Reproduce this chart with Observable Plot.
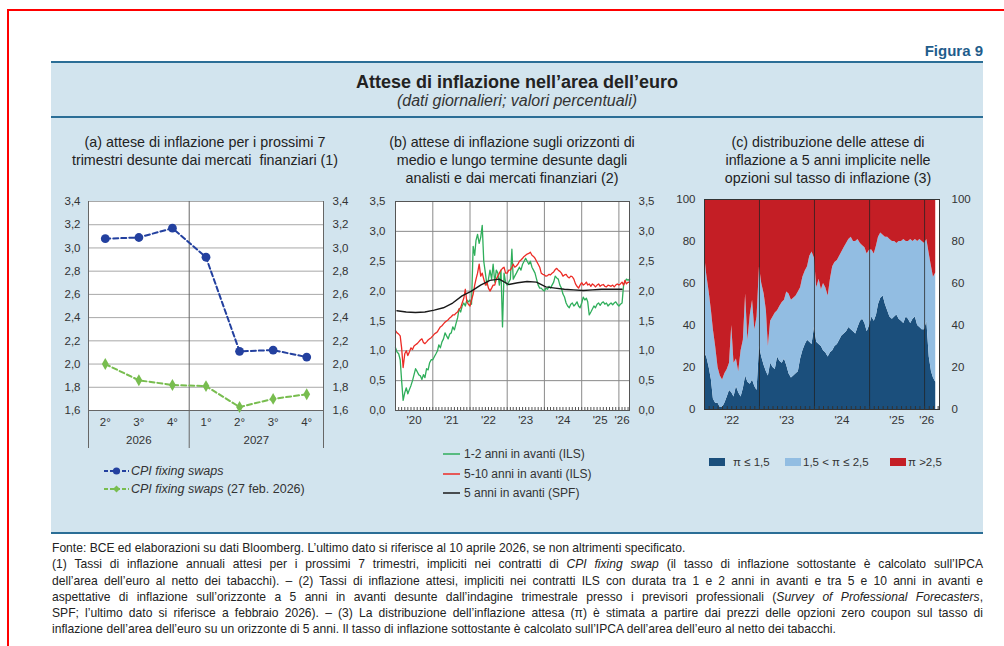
<!DOCTYPE html>
<html><head><meta charset="utf-8">
<script src="https://cdn.jsdelivr.net/npm/d3@7"></script>
<script src="https://cdn.jsdelivr.net/npm/@observablehq/plot@0.6"></script>
<style>
body{margin:0;width:1004px;height:646px;overflow:hidden;background:#fff;font-family:"Liberation Sans",Arial,sans-serif;color:#222;position:relative}
.abs{position:absolute}
.c{position:absolute;transform:translateX(-50%);white-space:nowrap;text-align:center}
.pt{font-size:14.3px;line-height:18px;color:#222}
.lg{position:absolute;white-space:nowrap;font-size:12px;line-height:14px;color:#333}
#notes{position:absolute;left:52px;top:540px;width:931px;font-size:12.1px;line-height:16.3px;color:#222}
#notes div{white-space:nowrap}
</style></head>
<body>
<div class="abs" style="left:7px;top:9px;width:1000px;height:640px;border-left:2px solid #f00;border-top:2px solid #f00"></div>
<div class="abs" style="right:21px;top:42px;font-weight:bold;font-size:15px;color:#1f5d8c">Figura 9</div>
<div class="abs" style="left:51px;top:61px;width:932px;height:469px;background:#d2e4ee;border-top:2px solid #2b6e96;border-bottom:2px solid #2b6e96"></div>
<div class="abs" style="left:51px;top:116px;width:932px;height:2px;background:#2b6e96"></div>
<div class="c" style="left:517px;top:71px;font-weight:bold;font-size:18px;line-height:22px">Attese di inflazione nell’area dell’euro</div>
<div class="c" style="left:517px;top:91px;font-style:italic;font-size:16px;line-height:20px;color:#333">(dati giornalieri; valori percentuali)</div>

<div class="c pt" style="left:205px;top:133px">(a) attese di inflazione per i prossimi 7<br>trimestri desunte dai mercati&nbsp; finanziari (1)</div>
<div class="c pt" style="left:512px;top:133px">(b) attese di inflazione sugli orizzonti di<br>medio e lungo termine desunte dagli<br>analisti e dai mercati finanziari (2)</div>
<div class="c pt" style="left:828px;top:133px">(c) distribuzione delle attese di<br>inflazione a 5 anni implicite nelle<br>opzioni sul tasso di inflazione (3)</div>

<div id="pa" class="abs" style="left:50px;top:190px"></div>
<div id="pb" class="abs" style="left:345px;top:190px"></div>
<div id="pc" class="abs" style="left:650px;top:190px"></div>
<div id="legends"></div>

<div id="notes">
<div><span>Fonte: BCE ed elaborazioni su dati Bloomberg. L’ultimo dato si riferisce al 10 aprile 2026, se non altrimenti specificato.</span></div>
<div class="j"><span>(1) Tassi di inflazione annuali attesi per i prossimi 7 trimestri, impliciti nei contratti di <i>CPI fixing swap</i> (il tasso di inflazione sottostante è calcolato sull’IPCA</span></div>
<div class="j"><span>dell’area dell’euro al netto dei tabacchi). – (2) Tassi di inflazione attesi, impliciti nei contratti ILS con durata tra 1 e 2 anni in avanti e tra 5 e 10 anni in avanti e</span></div>
<div class="j"><span>aspettative di inflazione sull’orizzonte a 5 anni in avanti desunte dall’indagine trimestrale presso i previsori professionali (<i>Survey of Professional Forecasters</i>,</span></div>
<div class="j"><span>SPF; l’ultimo dato si riferisce a febbraio 2026). – (3) La distribuzione dell’inflazione attesa (π) è stimata a partire dai prezzi delle opzioni zero coupon sul tasso di</span></div>
<div><span>inflazione dell’area dell’euro su un orizzonte di 5 anni. Il tasso di inflazione sottostante è calcolato sull’IPCA dell’area dell’euro al netto dei tabacchi.</span></div>
</div>

<script>
// ---------- Panel (a) data ----------
const quarterLabels = ["2°","3°","4°","1°","2°","3°","4°"];
const yearGroups = [{label:"2026", from:0, to:2},{label:"2027", from:3, to:6}];
const cpiSwaps    = [3.08, 3.09, 3.17, 2.92, 2.11, 2.12, 2.06];
const cpiSwapsFeb = [2.00, 1.86, 1.82, 1.81, 1.63, 1.70, 1.74];
const ticksA = [1.6,1.8,2.0,2.2,2.4,2.6,2.8,3.0,3.2,3.4];

// ---------- Panel (b) data (half-monthly readings from Jan 2020) ----------
const ils12 = [
1.05,0.98, 0.95,0.85, 0.5,0.17, 0.3,0.38, 0.28,0.35, 0.42,0.5, 0.6,0.7, 0.65,0.6, 0.58,0.52, 0.6,0.55, 0.7,0.68, 0.8,0.85,
0.85,0.9, 0.95,1.0, 1.1,1.05, 1.15,1.2, 1.3,1.25, 1.2,1.28, 1.3,1.4, 1.35,1.45, 1.55,1.7, 1.65,1.75, 1.8,1.75, 1.85,1.82,
1.85,1.78, 2.75,2.6, 2.85,2.95, 2.8,2.9, 3.1,2.5, 2.3,2.1, 2.2,2.35, 2.2,2.45, 2.15,2.35, 2.3,2.1, 2.35,1.4, 2.3,2.15,
2.1,2.15, 2.2,2.7, 2.2,2.25, 2.3,2.35, 2.4,2.35, 2.45,2.5, 2.55,2.5, 2.45,2.5, 2.4,2.35, 2.3,2.2, 2.1,2.05, 2.05,2.02,
2.0,2.05, 2.03,2.08, 2.05,2.1, 2.15,2.25, 2.22,2.2, 2.1,2.05, 1.95,1.9, 1.8,1.75, 1.72,1.78, 1.8,1.75, 1.78,1.82, 1.75,1.72,
1.8,1.9, 1.85,1.88, 1.82,1.6, 1.65,1.7, 1.75,1.72, 1.78,1.8, 1.76,1.8, 1.82,1.78, 1.8,1.75, 1.78,1.8, 1.77,1.8, 1.82,1.78,
1.75,1.78, 1.8,2.1, 2.15,2.2, 2.18,2.2];
const ils510 = [
1.34,1.3, 1.28,1.25, 1.05,0.72, 0.95,1.0, 0.92,0.98, 1.05,1.02, 1.08,1.1, 1.12,1.15, 1.18,1.2, 1.14,1.12, 1.15,1.18, 1.2,1.22,
1.25,1.28, 1.3,1.32, 1.36,1.4, 1.42,1.45, 1.48,1.5, 1.52,1.55, 1.57,1.6, 1.6,1.63, 1.65,1.7, 1.72,1.8, 1.88,2.03, 1.82,1.78,
1.75,1.85, 1.95,2.1, 2.2,2.3, 2.45,2.25, 2.3,2.2, 2.1,2.15, 2.05,2.0, 2.05,2.1, 2.1,2.2, 2.25,2.3, 2.35,2.38, 2.4,2.3,
2.3,2.35, 2.35,2.4, 2.45,2.4, 2.42,2.45, 2.5,2.52, 2.55,2.58, 2.6,2.62, 2.63,2.65, 2.6,2.58, 2.55,2.5, 2.45,2.4, 2.3,2.28,
2.27,2.25, 2.26,2.28, 2.27,2.3, 2.32,2.36, 2.38,2.35, 2.33,2.3, 2.25,2.27, 2.28,2.24, 2.22,2.25, 2.24,2.2, 2.12,2.08, 2.05,2.1,
2.14,2.1, 2.12,2.15, 2.1,2.12, 2.08,2.12, 2.1,2.07, 2.1,2.12, 2.08,2.1, 2.11,2.08, 2.07,2.1, 2.09,2.08, 2.1,2.07, 2.1,2.12,
2.1,2.12, 2.15,2.1, 2.18,2.12, 2.15,2.14];
const spfDates = ["2020-01-15","2020-04-15","2020-07-15","2020-10-15","2021-01-15","2021-04-15","2021-07-15","2021-10-15",
"2022-01-15","2022-04-15","2022-07-15","2022-10-15","2023-01-15","2023-04-15","2023-07-15","2023-10-15",
"2024-01-15","2024-04-15","2024-07-15","2024-10-15","2025-01-15","2025-04-15","2025-07-15","2025-10-15","2026-02-01"];
const spf5y = [1.67,1.65,1.64,1.65,1.68,1.72,1.80,1.92,2.00,2.10,2.18,2.20,2.11,2.14,2.16,2.15,2.07,2.05,2.03,2.02,2.01,2.02,2.03,2.03,2.03];
const ticksB = [0,0.5,1.0,1.5,2.0,2.5,3.0,3.5];
const yearLabelsB = ["'20","'21","'22","'23","'24","'25","'26"];
const yearLabelPosB = ["2020-07-01","2021-07-01","2022-07-01","2023-07-01","2024-07-01","2025-07-01","2026-02-01"];
const seriesNamesB = ["1-2 anni in avanti (ILS)","5-10 anni in avanti (ILS)","5 anni in avanti (SPF)"];

// ---------- Panel (c) data (half-monthly readings from Jan 2022) ----------
const shareLow = [
27,25,20,14,5,3,3,1,1,3, 6,9,8,6,11,8,6,10,16,13, 12,14,11,9,30,25,21,18,16,22,
20,19,25,23,22,24,21,17,15,16, 17,18,24,28,31,33,32,31,39,32, 31,30,28,27,25,27,28,30,31,33,
35,36,37,39,38,37,36,39,42,43, 41,37,40,44,42,45,50,53,54,50, 47,44,43,44,45,43,42,41,44,43,
41,43,44,40,39,38,38,42,25,18, 15,13];
const shareUpTo25 = [
74,64,56,47,38,30,20,16,14,17, 19,22,40,22,24,18,28,33,55,33, 45,52,38,44,68,60,55,47,30,42,
44,46,47,49,51,52,56,55,52,53, 54,56,58,63,66,68,73,75,72,58, 62,57,60,58,54,62,68,70,71,73,
75,77,79,81,82,80,80,81,79,78, 77,74,76,76,74,78,82,84,83,82, 82,81,80,80,79,80,80,81,80,80,
81,80,81,80,81,80,79,81,74,68, 63,65];
const distCategories = ["π  ≤ 1,5","1,5 < π  ≤ 2,5","π >2,5"];
const distColors = ["#1b4f7c","#92bde2","#c41e25"];
const ticksC = [0,20,40,60,80,100];
const yearLabelsC = ["'22","'23","'24","'25","'26"];
const yearLabelPosC = ["2022-07-01","2023-07-01","2024-07-01","2025-07-01","2026-01-15"];

// ---------- helpers ----------
const font = "Liberation Sans, Arial, sans-serif";
const style = {background:"transparent", fontFamily:font, fontSize:"11.5px", color:"#333", overflow:"visible"};
const comma = d => d.toFixed(1).replace(".", ",");
const blue = "#23409f", green = "#78bd4f";
const colGreen = "#2fae5b", colRed = "#ec2b25", colBlack = "#1a1a1a";

// ---------- Panel (a) ----------
const idx = d3.range(cpiSwaps.length);
const seps = [yearGroups[0].from - 0.5, ...yearGroups.map(g => g.to + 0.5)];
const pa = Plot.plot({
  width: 300, height: 262, marginLeft: 38, marginRight: 27, marginTop: 11, marginBottom: 42,
  style,
  x: {domain: [-0.5, cpiSwaps.length - 0.5]},
  y: {domain: [1.6, 3.4]},
  marks: [
    Plot.frame({fill: "white", stroke: null}),
    Plot.gridY(ticksA, {stroke: "#a8a8a8", strokeOpacity: 1}),
    Plot.axisY(ticksA, {anchor: "left", tickSize: 0, tickPadding: 8, tickFormat: comma, label: null}),
    Plot.axisY(ticksA, {anchor: "right", tickSize: 0, tickPadding: 9, tickFormat: comma, label: null}),
    Plot.ruleY([1.6], {stroke: "#666"}),
    Plot.ruleX(seps, {stroke: "#666", insetBottom: -38}),
    Plot.axisX(idx, {tickSize: 0, tickPadding: 7, tickFormat: i => quarterLabels[i], label: null}),
    Plot.text(yearGroups, {x: g => (g.from + g.to) / 2, text: "label", frameAnchor: "bottom", dy: 33, fontSize: 11.5, fill: "#333"}),
    Plot.line(idx, {x: i => i, y: i => cpiSwapsFeb[i], stroke: green, strokeWidth: 2, strokeDasharray: "5,3"}),
    Plot.dot(idx, {x: i => i, y: i => cpiSwapsFeb[i], symbol: "diamond", r: 3.6, fill: green, stroke: null}),
    Plot.line(idx, {x: i => i, y: i => cpiSwaps[i], stroke: blue, strokeWidth: 2, strokeDasharray: "5,3"}),
    Plot.dot(idx, {x: i => i, y: i => cpiSwaps[i], r: 4.4, fill: blue, stroke: null})
  ]
});
document.getElementById("pa").append(pa);

// ---------- Panel (b) ----------
const startB = new Date("2020-01-01");
const halfMonthsB = d3.utcMonth.range(startB, new Date("2026-05-01")).flatMap(d => [d, d3.utcDay.offset(d, 15)]);
const rowsB = [
  ...ils12.map((v, i) => ({date: halfMonthsB[i], value: v, s: seriesNamesB[0]})),
  ...ils510.map((v, i) => ({date: halfMonthsB[i], value: v, s: seriesNamesB[1]}))
];
const rowsSpf = spfDates.map((d, i) => ({date: new Date(d), value: spf5y[i]}));
const domainB = [startB, new Date("2026-04-15")];
const yearStartsB = d3.utcYear.range(new Date("2021-01-01"), domainB[1]);
const monthTicksB = d3.utcMonth.range(startB, domainB[1]);
const labelsB = yearLabelsB.map((t, i) => ({date: new Date(yearLabelPosB[i]), t}));
const pb = Plot.plot({
  width: 315, height: 250, marginLeft: 50, marginRight: 31, marginTop: 11, marginBottom: 30,
  style,
  x: {type: "utc", domain: domainB},
  y: {domain: [0, 3.5]},
  color: {domain: seriesNamesB, range: [colGreen, colRed, colBlack]},
  marks: [
    Plot.frame({fill: "white", stroke: null}),
    Plot.gridY(ticksB, {stroke: "#8a8a8a", strokeOpacity: 1}),
    Plot.gridX(yearStartsB, {stroke: "#8a8a8a", strokeOpacity: 1}),
    Plot.axisY(ticksB, {anchor: "left", tickSize: 0, tickPadding: 10, tickFormat: comma, label: null}),
    Plot.axisY(ticksB, {anchor: "right", tickSize: 0, tickPadding: 9, tickFormat: comma, label: null}),
    Plot.axisX(monthTicksB, {tickSize: -3, tickFormat: () => "", stroke: "#555", label: null}),
    Plot.text(labelsB, {x: "date", text: "t", frameAnchor: "bottom", dy: 13, fontSize: 11.5, fill: "#333"}),
    Plot.line(rowsB, {x: "date", y: "value", stroke: "s", z: "s", strokeWidth: 1.3}),
    Plot.line(rowsSpf, {x: "date", y: "value", stroke: () => seriesNamesB[2], strokeWidth: 1.4}),
    Plot.frame({stroke: "#555"})
  ]
});
document.getElementById("pb").append(pb);

// ---------- Panel (c) ----------
const startC = new Date("2022-01-01");
const halfMonthsC = d3.utcMonth.range(startC, new Date("2026-05-01")).flatMap(d => [d, d3.utcDay.offset(d, 15)]);
const rowsC = [];
shareLow.forEach((low, i) => {
  const cum = shareUpTo25[i];
  rowsC.push({date: halfMonthsC[i], share: low, cat: distCategories[0]});
  rowsC.push({date: halfMonthsC[i], share: cum - low, cat: distCategories[1]});
  rowsC.push({date: halfMonthsC[i], share: 100 - cum, cat: distCategories[2]});
});
const domainC = [startC, new Date("2026-04-10")];
const yearStartsC = d3.utcYear.range(new Date("2023-01-01"), domainC[1]);
const monthTicksC = d3.utcMonth.range(startC, domainC[1]);
const labelsC = yearLabelsC.map((t, i) => ({date: new Date(yearLabelPosC[i]), t}));
const pc = Plot.plot({
  width: 335, height: 250, marginLeft: 54, marginRight: 46, marginTop: 9, marginBottom: 31,
  style,
  x: {type: "utc", domain: domainC},
  y: {domain: [0, 100]},
  color: {domain: distCategories, range: distColors},
  marks: [
    Plot.frame({fill: "white", stroke: null}),
    Plot.areaY(rowsC, {x: "date", y: "share", fill: "cat", z: "cat", order: distCategories}),
    Plot.gridX(yearStartsC, {stroke: "#222", strokeOpacity: 0.75}),
    Plot.axisY(ticksC, {anchor: "left", tickSize: 0, tickPadding: 9, label: null}),
    Plot.axisY(ticksC, {anchor: "right", tickSize: 0, tickPadding: 12, label: null}),
    Plot.axisX(monthTicksC, {tickSize: -3, tickFormat: () => "", stroke: "#333", label: null}),
    Plot.text(labelsC, {x: "date", text: "t", frameAnchor: "bottom", dy: 14, fontSize: 11.5, fill: "#333"}),
    Plot.frame({stroke: "#333"})
  ]
});
document.getElementById("pc").append(pc);

// ---------- Legends ----------
const lg = document.getElementById("legends");
function add(html) { lg.insertAdjacentHTML("beforeend", html); }
// (a)
add(`<svg class="abs" style="left:103px;top:466px" width="27" height="28">
<line x1="1" y1="5" x2="26" y2="5" stroke="${blue}" stroke-width="2" stroke-dasharray="4,2"/><circle cx="13.5" cy="5" r="3.6" fill="${blue}"/>
<line x1="1" y1="23" x2="26" y2="23" stroke="${green}" stroke-width="2" stroke-dasharray="4,2"/><path d="M13.5,19.5 L17,23 L13.5,26.5 L10,23Z" fill="${green}"/></svg>`);
add(`<div class="lg" style="left:131px;top:464px;font-size:12.5px"><i>CPI fixing swaps</i></div>`);
add(`<div class="lg" style="left:131px;top:482px;font-size:12.5px"><i>CPI fixing swaps</i> (27 feb. 2026)</div>`);
// (b)
[[colGreen, 454], [colRed, 474], [colBlack, 493]].forEach(([c, y], i) => {
  add(`<div class="abs" style="left:443px;top:${y - 1}px;width:17px;height:2px;background:${c};opacity:0.75"></div>`);
  add(`<div class="lg" style="left:464px;top:${y - 7}px">${seriesNamesB[i]}</div>`);
});
// (c)
[[709, 733], [785, 803], [890, 908]].forEach(([sx, tx], i) => {
  add(`<div class="abs" style="left:${sx}px;top:458px;width:16px;height:8px;background:${distColors[i]}"></div>`);
  add(`<div class="lg" style="left:${tx}px;top:455px;font-size:11.5px">${distCategories[i]}</div>`);
});

// ---------- justify footnote lines to the panel width ----------
document.querySelectorAll("#notes .j").forEach(div => {
  const span = div.querySelector("span");
  const w = span.getBoundingClientRect().width;
  const spaces = (span.textContent.match(/ /g) || []).length;
  if (spaces) div.style.wordSpacing = ((931 - w) / spaces) + "px";
});
</script>
</body></html>
